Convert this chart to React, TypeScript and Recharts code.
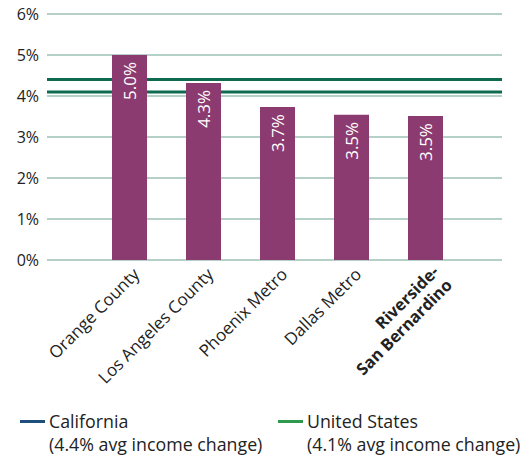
import React from "react";
import {
  BarChart,
  Bar,
  XAxis,
  YAxis,
  CartesianGrid,
  LabelList,
} from "recharts";

const regions = [
  "Orange County",
  "Los Angeles County",
  "Phoenix Metro",
  "Dallas Metro",
  "Riverside-San Bernardino",
];
const incomeChange = [5.0, 4.32, 3.73, 3.54, 3.51];
const yTicks = [0, 1, 2, 3, 4, 5, 6];
const californiaAvg = 4.4;
const usAvg = 4.1;

const data = regions.map((name, i) => ({ name, value: incomeChange[i] }));

const FONT = "'Open Sans', 'DejaVu Sans', sans-serif";
const BAR = "#8c3b70";
const REF = "#0f6b50";
const GRID = "#9cc2b4";

const XTick = (props: any) => {
  const { x, y, payload } = props;
  const name: string = payload.value;
  if (name === "Riverside-San Bernardino") {
    return (
      <g transform={`translate(${x + 12},${y + 2}) rotate(-45)`}>
        <text textAnchor="end" fontSize={16.5} fontWeight="bold" fill="#222" fontFamily={FONT}>
          <tspan x={0} dy={4}>Riverside-</tspan>
          <tspan x={0} dy={19}>San Bernardino</tspan>
        </text>
      </g>
    );
  }
  return (
    <g transform={`translate(${x + 8},${y + 4}) rotate(-45)`}>
      <text textAnchor="end" fontSize={17} fill="#222" fontFamily={FONT} dy={5}>
        {name}
      </text>
    </g>
  );
};

const BarLabel = (props: any) => {
  const { x, y, width, value } = props;
  const cx = x + width / 2 + 6;
  const cy = y + 7;
  return (
    <text
      transform={`translate(${cx},${cy}) rotate(-90)`}
      textAnchor="end"
      fill="#fff"
      fontSize={17}
      fontFamily={FONT}
    >
      {`${Number(value).toFixed(1)}%`}
    </text>
  );
};

const LegendItem = ({ color, label, note, left }: any) => (
  <div style={{ position: "absolute", left, top: 410, fontFamily: FONT, fontSize: 17.8, color: "#222", lineHeight: "23px" }}>
    <div style={{ display: "flex", alignItems: "center" }}>
      <span style={{ display: "inline-block", width: 25, height: 3, background: color, marginRight: 4 }} />
      {label}
    </div>
    <div style={{ paddingLeft: 29 }}>{note}</div>
  </div>
);

export default function App() {
  return (
    <div style={{ position: "absolute", left: 0, top: 0, width: 525, height: 456, background: "#fff" }}>
      <BarChart
        width={525}
        height={400}
        data={data}
        margin={{ top: 14, right: 23, bottom: 0, left: 0 }}
        barSize={35}
      >
        <CartesianGrid vertical={false} stroke={GRID} strokeWidth={1.5} />
        {/* average lines sit under the bars, so draw them as grid layers */}
        <CartesianGrid
          vertical={false}
          horizontalValues={[californiaAvg]}
          stroke={REF}
          strokeWidth={3}
        />
        <CartesianGrid
          vertical={false}
          horizontalValues={[usAvg]}
          stroke={REF}
          strokeWidth={3}
        />
        <XAxis
          dataKey="name"
          axisLine={false}
          tickLine={false}
          interval={0}
          padding={{ left: 45, right: 40 }}
          tick={<XTick />}
          height={140}
        />
        <YAxis
          domain={[0, 6]}
          ticks={yTicks}
          axisLine={false}
          tickLine={false}
          width={47}
          tickFormatter={(v: number) => `${v}%`}
          tick={{ fontSize: 16, fill: "#222", fontFamily: FONT }}
        />
        <Bar dataKey="value" fill={BAR} isAnimationActive={false}>
          <LabelList dataKey="value" content={<BarLabel />} />
        </Bar>
      </BarChart>
      <LegendItem color="#1d4f7a" label="California" note="(4.4% avg income change)" left={20} />
      <LegendItem color="#2f9a4e" label="United States" note="(4.1% avg income change)" left={278} />
    </div>
  );
}
